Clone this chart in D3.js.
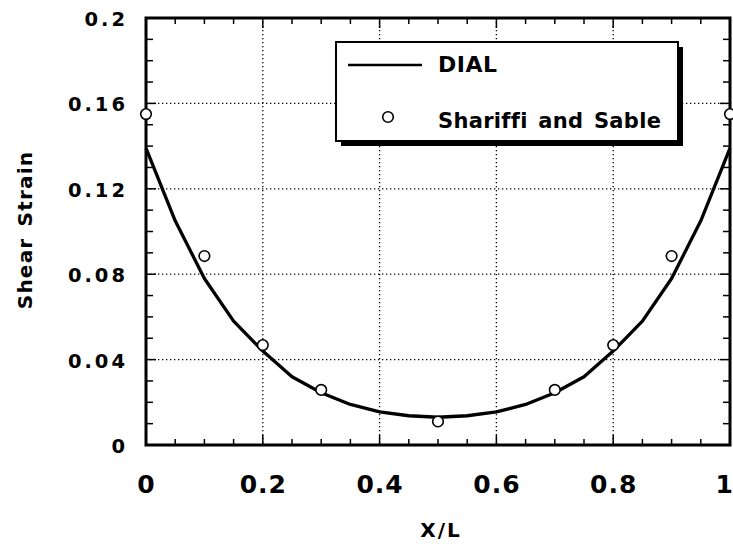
<!DOCTYPE html>
<html>
<head>
<meta charset="utf-8">
<script src="https://cdn.jsdelivr.net/npm/d3@7"></script>
<style>
  body { margin: 0; background: #fff; }
  svg { display: block; }
  text { font-family: "DejaVu Sans", sans-serif; font-weight: bold; fill: #000; }
</style>
</head>
<body>
<svg id="chart"></svg>
<script>
const width = 733;
const height = 546;

// DIAL solution curve (x/L, shear strain)
const dialX = [0, 0.05, 0.1, 0.15, 0.2, 0.25, 0.3, 0.35, 0.4, 0.45, 0.5, 0.55, 0.6, 0.65, 0.7, 0.75, 0.8, 0.85, 0.9, 0.95, 1];
const dialY = [0.139, 0.105, 0.078, 0.058, 0.044, 0.032, 0.0245, 0.019, 0.0155, 0.0137, 0.013, 0.0137, 0.0155, 0.019, 0.0245, 0.032, 0.044, 0.058, 0.078, 0.105, 0.139];

// Shariffi and Sable points
const refX = [0, 0.1, 0.2, 0.3, 0.5, 0.7, 0.8, 0.9, 1];
const refY = [0.155, 0.0885, 0.0468, 0.0258, 0.011, 0.0258, 0.0468, 0.0885, 0.155];

const xTicks = [0, 0.2, 0.4, 0.6, 0.8, 1];
const xTickLabels = ["0", "0.2", "0.4", "0.6", "0.8", "1"];
const yTicks = [0, 0.04, 0.08, 0.12, 0.16, 0.2];
const yTickLabels = ["0", "0.04", "0.08", "0.12", "0.16", "0.2"];

const plot = { left: 146, right: 730, top: 18, bottom: 445 };

const svg = d3.select('#chart').attr('width', width).attr('height', height);

const x = d3.scaleLinear().domain([0, 1]).range([plot.left, plot.right]);
const y = d3.scaleLinear().domain([0, 0.2]).range([plot.bottom, plot.top]);

// dotted grid at inner major ticks
const grid = svg.append('g');
grid.selectAll('.vgrid')
    .data(xTicks.slice(1, -1))
    .enter().append('line')
    .attr('x1', d => x(d)).attr('x2', d => x(d))
    .attr('y1', plot.top).attr('y2', plot.bottom)
    .style('stroke', '#000').style('stroke-width', 1.3)
    .style('stroke-dasharray', '1.3,2.7');
grid.selectAll('.hgrid')
    .data(yTicks.slice(1, -1))
    .enter().append('line')
    .attr('x1', plot.left).attr('x2', plot.right)
    .attr('y1', d => y(d)).attr('y2', d => y(d))
    .style('stroke', '#000').style('stroke-width', 1.3)
    .style('stroke-dasharray', '1.3,2.7');

// inward ticks on all four sides
const xMinor = d3.range(0, 1.0001, 0.05);
const yMinor = d3.range(0, 0.2001, 0.01);
const isMajorX = d => Math.abs(d * 5 - Math.round(d * 5)) < 1e-6;
const isMajorY = d => Math.abs(d * 25 - Math.round(d * 25)) < 1e-6;
const ticks = svg.append('g').style('stroke', '#000').style('stroke-width', 1.5);
xMinor.forEach(d => {
  const len = isMajorX(d) ? 10 : 6;
  ticks.append('line').attr('x1', x(d)).attr('x2', x(d)).attr('y1', plot.bottom).attr('y2', plot.bottom - len);
  ticks.append('line').attr('x1', x(d)).attr('x2', x(d)).attr('y1', plot.top).attr('y2', plot.top + len);
});
yMinor.forEach(d => {
  const len = isMajorY(d) ? 10 : 7;
  ticks.append('line').attr('y1', y(d)).attr('y2', y(d)).attr('x1', plot.left).attr('x2', plot.left + len);
  ticks.append('line').attr('y1', y(d)).attr('y2', y(d)).attr('x1', plot.right).attr('x2', plot.right - len);
});

// frame
svg.append('rect')
    .attr('x', plot.left).attr('y', plot.top)
    .attr('width', plot.right - plot.left).attr('height', plot.bottom - plot.top)
    .style('fill', 'none').style('stroke', '#000').style('stroke-width', 3);

// DIAL curve
const line = d3.line().x(d => x(d[0])).y(d => y(d[1]));
svg.append('path')
    .datum(d3.zip(dialX, dialY))
    .attr('d', line)
    .style('fill', 'none').style('stroke', '#000').style('stroke-width', 3.3)
    .style('stroke-linejoin', 'round');

// reference points
svg.append('g').selectAll('circle')
    .data(d3.zip(refX, refY))
    .enter().append('circle')
    .attr('cx', d => x(d[0])).attr('cy', d => y(d[1]))
    .attr('r', 5.3)
    .style('fill', '#fff').style('stroke', '#000').style('stroke-width', 1.6);

// tick labels (last one pulled in so it stays on the page)
svg.append('g').selectAll('text')
    .data(xTicks)
    .enter().append('text')
    .attr('x', d => d === 1 ? width : x(d) + 0.5)
    .attr('y', 493)
    .attr('text-anchor', d => d === 1 ? 'end' : 'middle')
    .style('font-size', '25px').style('letter-spacing', d => d === 1 ? '0px' : '1px')
    .text((d, i) => xTickLabels[i]);

svg.append('g').selectAll('text')
    .data(yTicks)
    .enter().append('text')
    .attr('x', 128)
    .attr('y', d => y(d) + 8)
    .attr('text-anchor', 'end')
    .style('font-size', '19.5px').style('letter-spacing', '3px')
    .text((d, i) => yTickLabels[i]);

// axis titles
svg.append('text')
    .attr('x', 441).attr('y', 537)
    .attr('text-anchor', 'middle')
    .style('font-size', '20px').style('letter-spacing', '2px')
    .text('X/L');

svg.append('text')
    .attr('transform', 'translate(32,230) rotate(-90)')
    .attr('text-anchor', 'middle')
    .style('font-size', '20px').style('letter-spacing', '1.2px').style('word-spacing', '3px')
    .text('Shear Strain');

// legend
const legend = svg.append('g');
legend.append('rect')
    .attr('x', 341).attr('y', 47).attr('width', 342).attr('height', 99)
    .style('fill', '#000');
legend.append('rect')
    .attr('x', 336).attr('y', 42).attr('width', 342).attr('height', 99)
    .style('fill', '#fff').style('stroke', '#000').style('stroke-width', 2);
legend.append('line')
    .attr('x1', 348).attr('x2', 422).attr('y1', 65).attr('y2', 65)
    .style('stroke', '#000').style('stroke-width', 2.5);
legend.append('text')
    .attr('x', 438).attr('y', 72)
    .style('font-size', '22px').style('letter-spacing', '0.5px')
    .text('DIAL');
legend.append('circle')
    .attr('cx', 388).attr('cy', 117).attr('r', 5.3)
    .style('fill', '#fff').style('stroke', '#000').style('stroke-width', 1.6);
legend.append('text')
    .attr('x', 438).attr('y', 128)
    .style('font-size', '21px').style('letter-spacing', '0.3px').style('word-spacing', '3px')
    .text('Shariffi and Sable');
</script>
</body>
</html>
